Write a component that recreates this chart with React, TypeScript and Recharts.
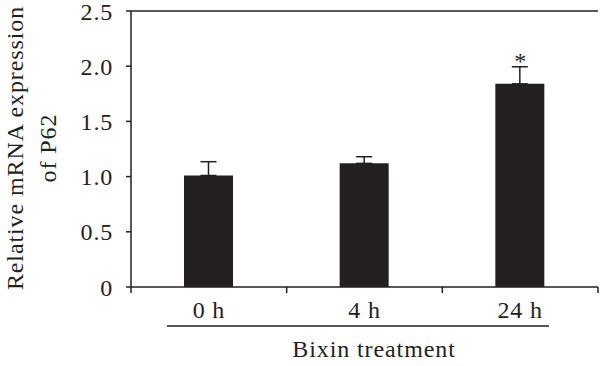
import React from 'react';
import { BarChart, Bar, XAxis, YAxis, ErrorBar, ReferenceLine, ReferenceDot } from 'recharts';

const categories = ['0 h', '4 h', '24 h'];
const values = [1.01, 1.12, 1.84];
const errors = [0.125, 0.06, 0.155];
const significance = ['', '', '*'];
const yTicks = [0, 0.5, 1.0, 1.5, 2.0, 2.5];
const yLabelLines = ['Relative mRNA expression', 'of P62'];
const xLabel = 'Bixin treatment';

const data = categories.map((c, i) => ({
  name: c,
  value: values[i],
  err: [0, errors[i]],
  sig: significance[i],
}));

const W = 600;
const H = 366;
const M = { top: 11, right: 2, left: 0, bottom: 0 };
const Y_AXIS_W = 131;
const PLOT_W = W - M.right - Y_AXIS_W;
const BAND = PLOT_W / categories.length;
const INK = '#231f20';
const FONT = "'Liberation Serif', 'DejaVu Serif', serif";
const FS = 24;
const TXT = { fontFamily: FONT, fontSize: FS };

const XTick = (props: any) => {
  const { x, y, payload, index } = props;
  const left = x - BAND / 2;
  const right = x + BAND / 2;
  return (
    <g>
      <line x1={left} y1={y - 8} x2={left} y2={y - 2} stroke={INK} strokeWidth={1.5} />
      {index === categories.length - 1 && (
        <line x1={right} y1={y - 8} x2={right} y2={y - 2} stroke={INK} strokeWidth={1.5} />
      )}
      <text x={x} y={y + 23} textAnchor="middle" style={TXT} fill={INK} letterSpacing={0.8}>
        {payload.value}
      </text>
    </g>
  );
};

const XLabel = (props: any) => {
  const vb = props.viewBox || {};
  const x0 = vb.x ?? Y_AXIS_W;
  const y0 = vb.y ?? 287;
  return (
    <g>
      <line x1={x0 + 36} y1={y0 + 39} x2={x0 + 418} y2={y0 + 39} stroke={INK} strokeWidth={1.5} />
      <text x={x0 + 243} y={y0 + 70} textAnchor="middle" style={TXT} fill={INK} letterSpacing={0.9}>
        {xLabel}
      </text>
    </g>
  );
};

const YLabel = () => {
  const cy = 148;
  const xs = [15, 48];
  return (
    <g>
      {yLabelLines.map((t, i) => (
        <text
          key={i}
          x={xs[i]}
          y={cy}
          transform={`rotate(-90 ${xs[i]} ${cy})`}
          textAnchor="middle"
          dominantBaseline="central"
          style={TXT}
          fill={INK}
          letterSpacing={0.9}
        >
          {t}
        </text>
      ))}
    </g>
  );
};

const StarLabel = (props: any) => {
  const vb = props.viewBox || {};
  const cx = vb.x ?? 0;
  const cy = vb.y ?? 0;
  return (
    <text x={cx} y={cy + 2} textAnchor="middle" style={TXT} fill={INK}>
      {significance[2]}
    </text>
  );
};

export default function App() {
  return (
    <div style={{ position: 'absolute', left: 0, top: 0, width: W, height: H, background: '#fff', fontFamily: FONT }}>
      <BarChart width={W} height={H} data={data} margin={M} style={{ fontFamily: FONT }}>
        <XAxis
          dataKey="name"
          xAxisId="main"
          height={79}
          axisLine={{ stroke: INK, strokeWidth: 1.5 }}
          tickLine={false}
          tick={<XTick />}
          interval={0}
          label={<XLabel />}
        />
        <YAxis
          yAxisId="left"
          width={Y_AXIS_W}
          domain={[0, 2.5]}
          ticks={yTicks}
          interval={0}
          tickFormatter={(v: number) => (v === 0 ? '0' : v.toFixed(1))}
          axisLine={{ stroke: INK, strokeWidth: 1.5 }}
          tickLine={{ stroke: INK, strokeWidth: 1.5 }}
          tickSize={5}
          tickMargin={13}
          tick={{ style: TXT, fontFamily: FONT, fontSize: FS, fill: INK, letterSpacing: 0.8 }}
          label={<YLabel />}
        />
        <YAxis
          yAxisId="right"
          orientation="right"
          width={0}
          domain={[0, 2.5]}
          tick={false}
          tickLine={false}
          axisLine={{ stroke: INK, strokeWidth: 1.5 }}
        />
        <ReferenceLine yAxisId="left" xAxisId="main" y={2.5} stroke={INK} strokeWidth={1.5} />
        <Bar dataKey="value" xAxisId="main" yAxisId="left" fill={INK} barSize={49} isAnimationActive={false}>
          <ErrorBar dataKey="err" width={8} stroke={INK} strokeWidth={1.5} direction="y" />
        </Bar>
        <ReferenceDot
          xAxisId="main"
          yAxisId="left"
          x={categories[2]}
          y={values[2] + errors[2]}
          r={0}
          fill="none"
          stroke="none"
          label={<StarLabel />}
        />
      </BarChart>
    </div>
  );
}
